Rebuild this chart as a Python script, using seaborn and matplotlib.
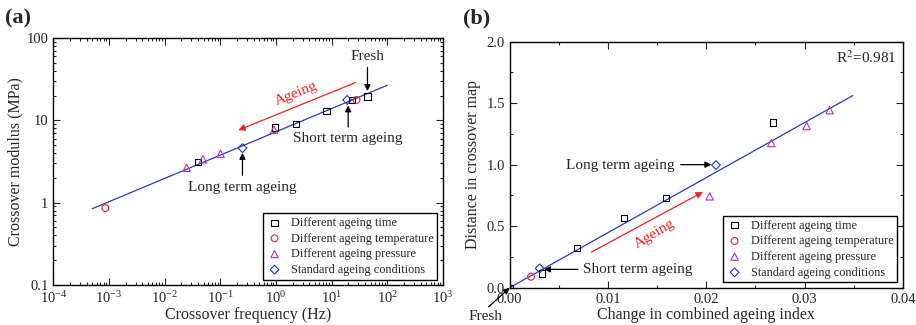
import numpy as np
import seaborn as sns
import matplotlib
matplotlib.use('Agg')
import matplotlib.pyplot as plt
from matplotlib.ticker import MultipleLocator, LogLocator, NullFormatter

sns.set_style('ticks')
plt.rcParams['font.family'] = ['Liberation Serif', 'DejaVu Serif']
plt.rcParams['mathtext.fontset'] = 'stix'

# ---- panel (a): crossover map (log-log) ----
a_time_x = [0.040, 0.955, 2.28, 8.1, 23.5, 44]
a_time_y = [3.13, 8.2, 9.0, 12.9, 17.7, 19.5]
a_temp_x = [0.00086, 28]
a_temp_y = [0.86, 17.7]
a_pres_x = [0.0248, 0.0488, 0.101, 0.92]
a_pres_y = [2.65, 3.37, 3.93, 7.7]
a_std_x = [0.25, 19]
a_std_y = [4.6, 17.7]
a_fit_x = [5e-4, 100]
a_fit_y = [0.845, 26.7]

# ---- panel (b): distance vs change in ageing index ----
b_time_x = [0.0, 0.00329, 0.00688, 0.01159, 0.01586, 0.02678]
b_time_y = [0.0, 0.116, 0.322, 0.568, 0.727, 1.343]
b_temp_x = [0.00217]
b_temp_y = [0.089]
b_pres_x = [0.02034, 0.02661, 0.0302, 0.03254]
b_pres_y = [0.743, 1.176, 1.314, 1.443]
b_std_x = [0.00305, 0.02098]
b_std_y = [0.157, 0.997]
b_fit_x = [0.0, 0.0349]
b_fit_y = [0.0, 1.562]

labels = ['Different ageing time', 'Different ageing temperature',
          'Different ageing pressure', 'Standard ageing conditions']
markers = ['s', 'o', '^', 'D']
colors = ['black', '#ee2222', '#c030c0', '#2233bb']
sizes = [20, 24, 28, 20]
line_col = '#2a3cb8'

fig = plt.figure(figsize=(9.16, 3.25), dpi=100)
ax1 = fig.add_axes([0.0582, 0.123, 0.4254, 0.760])
ax2 = fig.add_axes([0.5564, 0.1148, 0.4294, 0.757])


def draw_points(ax, groups):
    for (xs, ys), lab, m, c, s in zip(groups, labels, markers, colors, sizes):
        sns.scatterplot(x=xs, y=ys, marker=m, s=s, facecolor='none', edgecolor=c,
                        linewidth=0.8, label=lab, ax=ax, zorder=3)


def style_axes(ax):
    ax.tick_params(which='both', direction='in', top=True, right=True,
                   labelsize=10.5, width=0.8)
    ax.tick_params(which='major', length=5)
    ax.tick_params(which='minor', length=2.5)
    for sp in ax.spines.values():
        sp.set_linewidth(1.0)
        sp.set_color('black')


def add_legend(ax):
    leg = ax.legend(loc='lower right', fontsize=8.8, frameon=True, fancybox=False,
                    edgecolor='black', framealpha=1, borderpad=0.3,
                    handletextpad=0.7, labelspacing=0.3, borderaxespad=0.45,
                    handlelength=1.3)
    leg.get_frame().set_linewidth(1.0)


# panel (a)
sns.lineplot(x=a_fit_x, y=a_fit_y, color=line_col, lw=0.9, ax=ax1)
draw_points(ax1, [(a_time_x, a_time_y), (a_temp_x, a_temp_y),
                  (a_pres_x, a_pres_y), (a_std_x, a_std_y)])
ax1.set_xscale('log')
ax1.set_yscale('log')
ax1.set_xlim(1e-4, 1e3)
ax1.set_ylim(0.1, 100)
ax1.xaxis.set_major_locator(LogLocator(base=10, numticks=10))
ax1.xaxis.set_minor_locator(LogLocator(base=10, subs=np.arange(2, 10), numticks=20))
ax1.xaxis.set_minor_formatter(NullFormatter())
ax1.set_yticks([0.1, 1, 10, 100], labels=['0.1', '1', '10', '100'])
ax1.yaxis.set_minor_locator(LogLocator(base=10, subs=np.arange(2, 10), numticks=20))
ax1.yaxis.set_minor_formatter(NullFormatter())
ax1.set_xlabel('Crossover frequency (Hz)', fontsize=11.5, labelpad=1)
ax1.set_ylabel('Crossover modulus (MPa)', fontsize=11.5, labelpad=2)
style_axes(ax1)
add_legend(ax1)

ann = dict(fontsize=11, ha='center', va='center')
black_arrow = dict(arrowstyle='-|>', color='black', lw=0.9, mutation_scale=9,
                   shrinkA=0, shrinkB=0)
red_arrow = dict(arrowstyle='-|>', color='#ee2222', lw=0.9, mutation_scale=10,
                 shrinkA=0, shrinkB=0)

ax1.text(44, 60, 'Fresh', **ann)
ax1.annotate('', xy=(44, 22.7), xytext=(44, 44), arrowprops=black_arrow)
ax1.text(19.8, 6.0, 'Short term ageing', **ann)
ax1.annotate('', xy=(19.8, 15.2), xytext=(19.8, 8.3), arrowprops=black_arrow)
ax1.text(0.25, 1.51, 'Long term ageing', **ann)
ax1.annotate('', xy=(0.25, 4.03), xytext=(0.25, 2.15), arrowprops=black_arrow)
ax1.annotate('', xy=(0.21, 7.6), xytext=(27, 28.8), arrowprops=red_arrow)
ax1.text(2.3, 21, 'Ageing', color='#ee2222', rotation=22, **ann)

# panel (b)
sns.lineplot(x=b_fit_x, y=b_fit_y, color=line_col, lw=0.9, ax=ax2)
draw_points(ax2, [(b_time_x, b_time_y), (b_temp_x, b_temp_y),
                  (b_pres_x, b_pres_y), (b_std_x, b_std_y)])
ax2.set_xlim(0, 0.04)
ax2.set_ylim(0, 2.0)
ax2.xaxis.set_major_locator(MultipleLocator(0.01))
ax2.xaxis.set_minor_locator(MultipleLocator(0.005))
ax2.yaxis.set_major_locator(MultipleLocator(0.5))
ax2.yaxis.set_minor_locator(MultipleLocator(0.25))
ax2.xaxis.set_major_formatter(matplotlib.ticker.FormatStrFormatter('%.2f'))
ax2.yaxis.set_major_formatter(matplotlib.ticker.FormatStrFormatter('%.1f'))
ax2.set_xlabel('Change in combined ageing index', fontsize=11.5, labelpad=1)
ax2.set_ylabel('Distance in crossover map', fontsize=11.5, labelpad=4)
style_axes(ax2)
add_legend(ax2)

ax2.text(0.0363, 1.873, 'R$^2$=0.981', **ann)
ax2.text(0.01125, 0.995, 'Long term ageing', **ann)
ax2.annotate('', xy=(0.02051, 1.0), xytext=(0.01739, 1.0), arrowprops=black_arrow)
ax2.text(0.01305, 0.149, 'Short term ageing', **ann)
ax2.annotate('', xy=(0.00349, 0.149), xytext=(0.00695, 0.149), arrowprops=black_arrow)
ax2.annotate('Fresh', xy=(0.0, 0.0), xytext=(-0.0025, -0.235),
             arrowprops=dict(black_arrow, relpos=(0.5, 1.0)),
             annotation_clip=False, fontsize=11, ha='center', va='center')
ax2.annotate('', xy=(0.01966, 0.778), xytext=(0.0083, 0.289), arrowprops=red_arrow)
ax2.text(0.01475, 0.44, 'Ageing', color='#ee2222', rotation=31, **ann)

fig.text(0.006, 0.975, '(a)', fontsize=16, fontweight='bold', va='top')
fig.text(0.506, 0.975, '(b)', fontsize=16, fontweight='bold', va='top')

fig.savefig('out.png', dpi=100)
